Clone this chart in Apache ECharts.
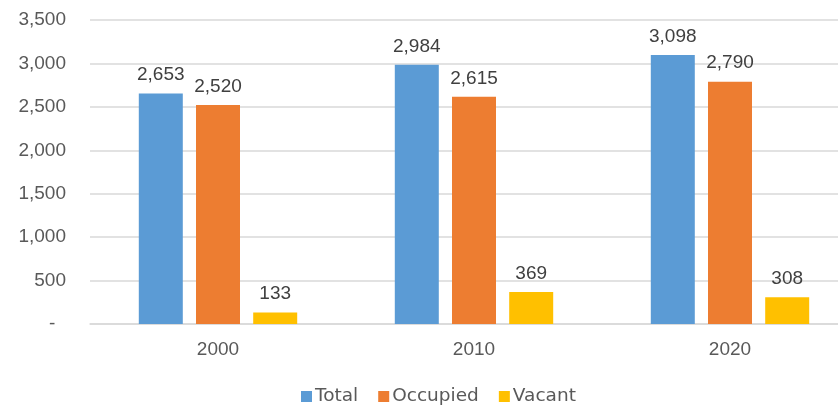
<!DOCTYPE html>
<html>
<head>
<meta charset="utf-8">
<script src="https://cdn.jsdelivr.net/npm/echarts@6/dist/echarts.min.js"></script>
<style>
  html, body { margin: 0; padding: 0; background: #fff; }
  #chart { width: 838px; height: 405px; }
</style>
</head>
<body>
<div id="chart"></div>
<script>
const years = ["2000", "2010", "2020"];
const totalUnits = [2653, 2984, 3098];
const occupiedUnits = [2520, 2615, 2790];
const vacantUnits = [133, 369, 308];

const numFont = "Liberation Sans";
const textFont = "DejaVu Sans";
const textColor = "#595959";
// accounting style: zero shows as a dash
const fmt = (v) => (v === 0 ? "-  " : v.toLocaleString("en-US"));

const label = {
  show: true,
  position: "top",
  distance: 9,
  color: "#404040",
  fontFamily: numFont,
  fontSize: 19,
  formatter: (p) => fmt(p.value),
};

const chart = echarts.init(document.getElementById("chart"));
chart.setOption({
  animation: false,
  textStyle: { fontFamily: numFont },
  grid: { left: 90, top: 20, width: 768, height: 304, outerBoundsMode: "none" },
  legend: {
    data: ["Total", "Occupied", "Vacant"],
    left: 296,
    top: 382,
    itemWidth: 11,
    itemHeight: 11,
    itemGap: 20,
    icon: "rect",
    textStyle: { color: textColor, fontSize: 18.5, fontFamily: textFont, padding: [0, 0, 0, -2] },
  },
  xAxis: {
    type: "category",
    data: years,
    axisLine: { lineStyle: { color: "#d9d9d9", width: 1.5 } },
    axisTick: { show: false },
    axisLabel: { color: textColor, fontSize: 19, fontFamily: numFont, margin: 16 },
  },
  yAxis: {
    type: "value",
    min: 0,
    max: 3500,
    interval: 500,
    axisLine: { show: false },
    axisTick: { show: false },
    splitLine: { lineStyle: { color: "#d9d9d9", width: 1.5 } },
    axisLabel: { color: textColor, fontSize: 19, fontFamily: numFont, margin: 24, formatter: fmt },
  },
  series: [
    { name: "Total", type: "bar", data: totalUnits, barWidth: 44, barGap: "30%", itemStyle: { color: "#5b9bd5" }, label },
    { name: "Occupied", type: "bar", data: occupiedUnits, barWidth: 44, barGap: "30%", itemStyle: { color: "#ed7d31" }, label },
    { name: "Vacant", type: "bar", data: vacantUnits, barWidth: 44, barGap: "30%", itemStyle: { color: "#ffc000" }, label },
  ],
});
</script>
</body>
</html>
